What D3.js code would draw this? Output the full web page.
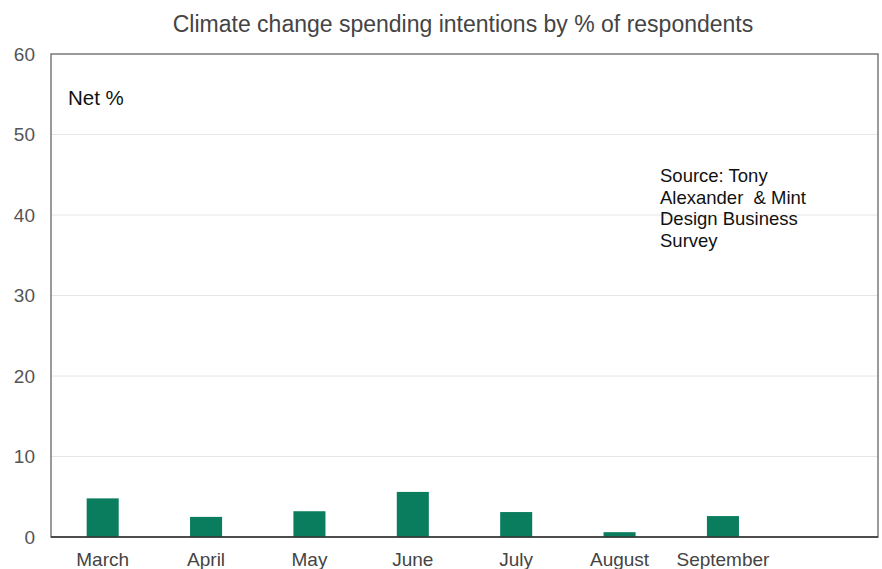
<!DOCTYPE html>
<html>
<head>
<meta charset="utf-8">
<script src="https://cdn.jsdelivr.net/npm/d3@7"></script>
<style>
  body { margin: 0; background: #fff; }
  text { font-family: "Liberation Sans", Arial, sans-serif; }
</style>
</head>
<body>
<div class="chart"></div>
<script>
// data
var months = ["March", "April", "May", "June", "July", "August", "September", ""];
var netPct = [4.8, 2.5, 3.2, 5.6, 3.1, 0.6, 2.6, null];
var yTicks = [0, 10, 20, 30, 40, 50, 60];
var sourceLines = ["Source: Tony", "Alexander\u00a0 & Mint", "Design Business", "Survey"];

var svgWidth = 882;
var svgHeight = 569;

var margin = { top: 54, right: 4, bottom: 32, left: 51 };
var width = svgWidth - margin.left - margin.right;
var height = svgHeight - margin.top - margin.bottom;

var svg = d3.select(".chart")
  .append("svg")
  .attr("width", svgWidth)
  .attr("height", svgHeight);

var chartGroup = svg.append("g")
  .attr("transform", `translate(${margin.left}, ${margin.top})`);

var xScale = d3.scaleBand()
  .domain(months.map((m, i) => i))
  .range([0, width])
  .paddingInner(0.69)
  .paddingOuter(0.345);

var yScale = d3.scaleLinear()
  .domain([0, 60])
  .range([height, 0]);

// gridlines
chartGroup.selectAll(".grid")
  .data(yTicks.filter(d => d > 0 && d < 60))
  .enter()
  .append("line")
  .attr("x1", 0)
  .attr("x2", width)
  .attr("y1", d => yScale(d))
  .attr("y2", d => yScale(d))
  .attr("stroke", "#e6e6e6")
  .attr("stroke-width", 1);

// frame
chartGroup.append("rect")
  .attr("x", 0)
  .attr("y", 0)
  .attr("width", width)
  .attr("height", height)
  .attr("fill", "none")
  .attr("stroke", "#7a7a7a")
  .attr("stroke-width", 1.5);

// bars
chartGroup.selectAll(".bar")
  .data(netPct.map((v, i) => ({ i: i, v: v })).filter(d => d.v != null))
  .enter()
  .append("rect")
  .attr("x", d => xScale(d.i))
  .attr("width", xScale.bandwidth())
  .attr("y", d => yScale(d.v))
  .attr("height", d => yScale(0) - yScale(d.v))
  .attr("fill", "#0b7d5f");

// baseline
chartGroup.append("line")
  .attr("x1", 0)
  .attr("x2", width)
  .attr("y1", yScale(0))
  .attr("y2", yScale(0))
  .attr("stroke", "#333")
  .attr("stroke-width", 1.5);

// y axis labels
var leftAxis = d3.axisLeft(yScale).tickValues(yTicks).tickSize(0).tickPadding(16);
var yAxisG = chartGroup.append("g").call(leftAxis);
yAxisG.select(".domain").remove();
yAxisG.selectAll("text")
  .attr("fill", "#555")
  .style("font-size", "19px");

// x axis labels
var bottomAxis = d3.axisBottom(xScale).tickFormat(i => months[i]).tickSize(0).tickPadding(16);
var xAxisG = chartGroup.append("g")
  .attr("transform", `translate(0, ${height})`)
  .call(bottomAxis);
xAxisG.select(".domain").remove();
xAxisG.selectAll("text")
  .attr("fill", "#444")
  .style("font-size", "19px");

// title
svg.append("text")
  .attr("x", 463)
  .attr("y", 32)
  .attr("text-anchor", "middle")
  .attr("fill", "#444")
  .style("font-size", "23px")
  .text("Climate change spending intentions by % of respondents");

// Net % label
svg.append("text")
  .attr("x", 68)
  .attr("y", 105)
  .attr("fill", "#111")
  .style("font-size", "20.5px")
  .text("Net %");

// source note
svg.append("text")
  .attr("x", 660)
  .attr("y", 182)
  .attr("fill", "#111")
  .style("font-size", "18.5px")
  .selectAll("tspan")
  .data(sourceLines)
  .enter()
  .append("tspan")
  .attr("x", 660)
  .attr("dy", (d, i) => i === 0 ? 0 : 21.7)
  .text(d => d);
</script>
</body>
</html>
